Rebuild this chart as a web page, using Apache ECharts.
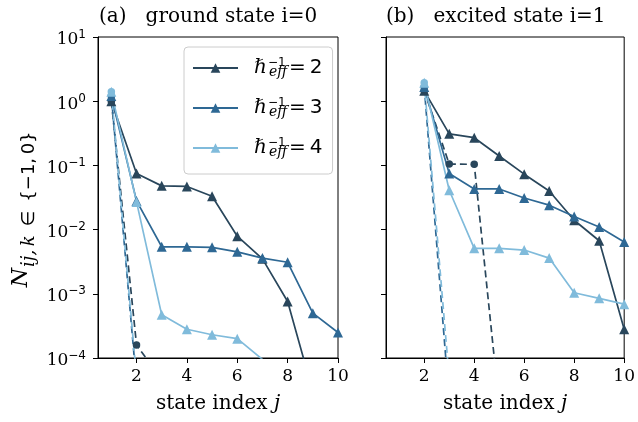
<!DOCTYPE html>
<html><head><meta charset="utf-8">
<script src="https://cdn.jsdelivr.net/npm/echarts@6/dist/echarts.min.js"></script>
<style>html,body{margin:0;padding:0;background:#fff}#c{width:638px;height:422px}</style>
</head><body><div id="c"></div>
<script>
// ---- data ----
const xTicks = [2, 4, 6, 8, 10];
const hbarLabels = ['2', '3', '4'];
const seriesNames = ['h2', 'h3', 'h4'];
const colors = ['#29465b', '#2e6894', '#80bbdb'];

// panel (a): ground state i=0, state index j starts at 1
const jA = [1, 2, 3, 4, 5, 6, 7, 8, 9, 10];
const aH2 = [1.0, 0.075, 0.048, 0.047, 0.033, 0.0079, 0.0035, 0.00076, 0.00003];
const aH3 = [1.2, 0.028, 0.0054, 0.0054, 0.0053, 0.0045, 0.0036, 0.0031, 0.0005, 0.00025];
const aH4 = [1.4, 0.027, 0.00047, 0.00028, 0.00023, 0.0002, 0.000095];
const aH2dash = [1.0, 0.00016, 0.000046];
const aH3dash = [1.2, 0.00004];
const aH4dash = [1.4, 0.000049];

// panel (b): excited state i=1, state index j starts at 2
const jB = [2, 3, 4, 5, 6, 7, 8, 9, 10];
const bH2 = [1.45, 0.31, 0.27, 0.14, 0.073, 0.040, 0.014, 0.0067, 0.00028];
const bH3 = [1.67, 0.075, 0.043, 0.043, 0.031, 0.024, 0.016, 0.011, 0.0064];
const bH4 = [1.93, 0.041, 0.0051, 0.0051, 0.0048, 0.0036, 0.00104, 0.00085, 0.00069];
const bH2dash = [1.45, 0.105, 0.104, 0.000018];
const bH3dash = [1.67, 0.000021];
const bH4dash = [1.93, 0.000048];

// ---- build ----
const pairs = (xs, ys) => ys.map((y, i) => [xs[i], y]);
const SERIF = 'DejaVu Serif';
const SANS = 'DejaVu Sans';

function solid(k, xs, ys, gi) {
  return {type: 'line', name: seriesNames[k], data: pairs(xs, ys), xAxisIndex: gi, yAxisIndex: gi,
    symbol: 'triangle', symbolSize: 10, color: colors[k],
    lineStyle: {width: 1.7, color: colors[k]}, itemStyle: {color: colors[k]},
    animation: false, clip: true, emphasis: {disabled: true}};
}
function dashed(k, xs, ys, gi) {
  return {type: 'line', name: seriesNames[k] + '_d', data: pairs(xs, ys), xAxisIndex: gi, yAxisIndex: gi,
    symbol: 'circle', symbolSize: 7.5, color: colors[k],
    lineStyle: {width: 1.7, color: colors[k], type: [7, 4]}, itemStyle: {color: colors[k]},
    animation: false, clip: true, emphasis: {disabled: true}};
}

const series = [
  solid(0, jA, aH2, 0), dashed(0, jA, aH2dash, 0),
  solid(1, jA, aH3, 0), dashed(1, jA, aH3dash, 0),
  solid(2, jA, aH4, 0), dashed(2, jA, aH4dash, 0),
  solid(0, jB, bH2, 1), dashed(0, jB, bH2dash, 1),
  solid(1, jB, bH3, 1), dashed(1, jB, bH3dash, 1),
  solid(2, jB, bH4, 1), dashed(2, jB, bH4dash, 1)
];

const supRich = {
  b: {fontFamily: SERIF, fontSize: 17, color: '#000', lineHeight: 17, padding: [9, 0, 3, 0]},
  e: {fontFamily: SANS, fontSize: 12, color: '#000', lineHeight: 12, verticalAlign: 'top'}
};
function logFmt(v) {
  const e = Math.round(Math.log10(v));
  return '{b|10}{e|' + String(e).replace('-', '\u2212') + '}';
}

function xAxis(gi) {
  return {type: 'value', gridIndex: gi, min: 0.47, max: 10,
    axisLine: {show: true, onZero: false, lineStyle: {color: '#000', width: 1}},
    axisTick: {show: true, length: 5, customValues: xTicks, lineStyle: {color: '#000'}},
    axisLabel: {customValues: xTicks, fontFamily: SERIF, fontSize: 17, color: '#000', margin: 10},
    splitLine: {show: false},
    name: '{t|state index }{j|j}', nameLocation: 'middle', nameGap: 36, nameMoveOverlap: false,
    nameTextStyle: {rich: {
      t: {fontFamily: SERIF, fontSize: 20, color: '#000'},
      j: {fontFamily: SERIF, fontStyle: 'italic', fontSize: 20, color: '#000'}
    }}};
}
function yAxis(gi) {
  const ax = {type: 'log', logBase: 10, gridIndex: gi, min: 1e-4, max: 10,
    axisLine: {show: true, lineStyle: {color: '#000', width: 1}},
    axisTick: {show: true, length: 5, lineStyle: {color: '#000'}},
    minorTick: {show: false},
    axisLabel: {show: gi === 0, formatter: logFmt, rich: supRich, margin: 12},
    splitLine: {show: false}};
  if (gi === 0) {
    // the closing brace is left as plain text (rich syntax would treat it as a token end)
    ax.name = '{n|N}{s|ij,\u2009k}{r|\u2002\u2208\u2002{\u22121,\u20090}}{p|\u2009}';
    ax.nameLocation = 'middle';
    ax.nameRotate = 90;
    ax.nameGap = 55;
    ax.nameMoveOverlap = false;
    ax.nameTextStyle = {fontFamily: SANS, fontSize: 18, color: '#000', lineHeight: 18, rich: {
      n: {fontFamily: SERIF, fontStyle: 'italic', fontSize: 22, color: '#000', lineHeight: 28, padding: [0, 1, 16, 0]},
      s: {fontFamily: SERIF, fontStyle: 'italic', fontSize: 18, color: '#000', lineHeight: 18},
      r: {fontFamily: SANS, fontSize: 18, color: '#000', lineHeight: 18},
      p: {fontFamily: SANS, fontSize: 18, color: '#000', lineHeight: 18, padding: [0, 20, 0, 0]}
    }};
  }
  return ax;
}

const titleStyle = {fontFamily: SERIF, fontSize: 20, fontWeight: 'normal', color: '#000'};

const option = {
  animation: false,
  backgroundColor: '#fff',
  title: [
    {text: '(a)   ground state i=0', left: 99, top: 7, padding: 0, textStyle: titleStyle},
    {text: '(b)   excited state i=1', left: 386, top: 7, padding: 0, textStyle: titleStyle}
  ],
  grid: [
    {left: 98, top: 37, width: 240, height: 321, show: true, borderColor: '#000', borderWidth: 1, backgroundColor: 'transparent', containLabel: false},
    {left: 386, top: 37, width: 240, height: 321, show: true, borderColor: '#000', borderWidth: 1, backgroundColor: 'transparent', containLabel: false}
  ],
  xAxis: [xAxis(0), xAxis(1)],
  yAxis: [yAxis(0), yAxis(1)],
  legend: {
    data: seriesNames,
    orient: 'vertical', left: 184, top: 47,
    padding: [7, 10, 12, 8], itemGap: 12,
    itemWidth: 45, itemHeight: 12,
    backgroundColor: 'rgba(255,255,255,0.85)', borderColor: '#cccccc', borderWidth: 1, borderRadius: 4,
    selectedMode: false,
    formatter: function (name) {
      const k = seriesNames.indexOf(name);
      return '{h|\u210F}{sup|\u22121}{sub|eff}{eq|=\u2009' + hbarLabels[k] + '}';
    },
    textStyle: {rich: {
      h: {fontFamily: SERIF, fontSize: 20, color: '#000', lineHeight: 28, padding: [0, 1, 0, 11]},
      sup: {fontFamily: SANS, fontSize: 12, color: '#000', lineHeight: 12, width: 1, padding: [3, 0, 0, 0], verticalAlign: 'top'},
      sub: {fontFamily: SERIF, fontStyle: 'italic', fontSize: 14, color: '#000', lineHeight: 14, padding: [0, 0, 3, 0], verticalAlign: 'bottom'},
      eq: {fontFamily: SANS, fontSize: 20, color: '#000', lineHeight: 28, padding: [0, 0, 0, 2]}
    }}
  },
  series: series
};

const chart = echarts.init(document.getElementById('c'), null, {renderer: 'canvas'});
chart.setOption(option);
</script>
</body></html>
